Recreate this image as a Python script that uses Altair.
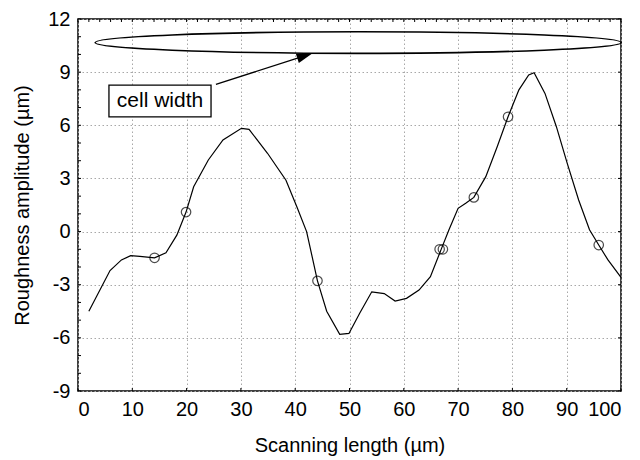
import altair as alt
import pandas as pd

# profile curve
curve_x = [2.0, 5.9, 8.0, 9.7, 11.4, 14.1, 16.2, 18.2, 19.9, 21.3, 24.0, 26.7, 30.1, 31.5, 34.9,
           38.3, 40.3, 42.1, 44.1, 45.8, 48.2, 49.9, 51.9, 54.1, 56.4, 58.4, 60.5, 62.8, 64.9, 66.9,
           68.3, 70.0, 71.4, 72.9, 75.1, 77.2, 79.2, 81.2, 83.0, 84.0, 86.0, 88.1, 90.1, 92.2, 94.2,
           95.9, 97.6, 100.0]
curve_y = [-4.5, -2.2, -1.6, -1.36, -1.4, -1.48, -1.2, -0.2, 1.1, 2.53, 4.04, 5.17, 5.83, 5.77, 4.42,
           2.9, 1.4, 0.0, -2.78, -4.5, -5.8, -5.75, -4.6, -3.4, -3.5, -3.92, -3.77, -3.3, -2.55, -0.99,
           0.09, 1.31, 1.6, 1.93, 3.1, 4.79, 6.48, 8.0, 8.84, 8.97, 7.8, 5.92, 3.85, 1.78, 0.1,
           -0.76, -1.6, -2.58]

# circled points
marker_x = [14.1, 19.9, 44.1, 66.6, 67.2, 72.9, 79.2, 95.9]
marker_y = [-1.48, 1.1, -2.78, -1.0, -1.0, 1.93, 6.48, -0.76]

# annotation
ellipse_center = [51.6, 10.67]
box_x = [5.7, 24.5]
box_y = [6.48, 8.27]
label_pos = [15.1, 7.37]
label_text = "cell width"
arrow_from = [25.4, 8.31]
arrow_to = [43.2, 10.06]

x_ticks = [0, 10, 20, 30, 40, 50, 60, 70, 80, 90, 100]
y_ticks = [-9, -6, -3, 0, 3, 6, 9, 12]
x_minor = [0, 2, 4, 6, 8, 10, 12, 14, 16, 18, 20, 22, 24, 26, 28, 30, 32, 34, 36, 38, 40, 42, 44, 46,
           48, 50, 52, 54, 56, 58, 60, 62, 64, 66, 68, 70, 72, 74, 76, 78, 80, 82, 84, 86, 88, 90,
           92, 94, 96, 98, 100]
y_minor = [-9, -8, -7, -6, -5, -4, -3, -2, -1, 0, 1, 2, 3, 4, 5, 6, 7, 8, 9, 10, 11, 12]

FONT = "Liberation Sans"
W, H = 543, 372

curve = pd.DataFrame({"x": curve_x, "y": curve_y})
markers = pd.DataFrame({"x": marker_x, "y": marker_y})

xscale = alt.Scale(domain=[0, 100], nice=False, zero=False)
yscale = alt.Scale(domain=[-9, 12], nice=False, zero=False)

xaxis = alt.Axis(values=x_ticks, title="Scanning length (µm)", grid=True, ticks=False,
                 domain=False, labelPadding=8, titlePadding=16,
                 labelExpr="replace(datum.label, '−', '-')")
yaxis = alt.Axis(values=y_ticks, title="Roughness amplitude (µm)", grid=True, ticks=False,
                 domain=False, labelPadding=8, titlePadding=15,
                 labelExpr="replace(datum.label, '−', '-')")

base_line = alt.Chart(curve).mark_line(color="black", strokeWidth=1.2).encode(
    x=alt.X("x:Q", scale=xscale, axis=xaxis),
    y=alt.Y("y:Q", scale=yscale, axis=yaxis),
)

pts = alt.Chart(markers).mark_point(shape="circle", filled=False, color="black",
                                    size=90, strokeWidth=1.2).encode(
    x=alt.X("x:Q", scale=xscale),
    y=alt.Y("y:Q", scale=yscale),
)

ell_df = pd.DataFrame({"x": [ellipse_center[0]], "y": [ellipse_center[1]]})
ellipse_path = ("M-1,0 C-1,-0.0226 -0.5523,-0.041 0,-0.041 C0.5523,-0.041 1,-0.0226 1,0 "
                "C1,0.0226 0.5523,0.041 0,0.041 C-0.5523,0.041 -1,0.0226 -1,0 Z")
ellipse = alt.Chart(ell_df).mark_point(shape=ellipse_path, filled=False, color="black",
                                       size=276676, strokeWidth=1.6, opacity=1).encode(
    x=alt.X("x:Q", scale=xscale),
    y=alt.Y("y:Q", scale=yscale),
)

box_df = pd.DataFrame({"x": [box_x[0]], "x2": [box_x[1]], "y": [box_y[0]], "y2": [box_y[1]]})
box = alt.Chart(box_df).mark_rect(fill="white", stroke="black", strokeWidth=1.3).encode(
    x=alt.X("x:Q", scale=xscale), x2="x2:Q",
    y=alt.Y("y:Q", scale=yscale), y2="y2:Q",
)

lab_df = pd.DataFrame({"x": [label_pos[0]], "y": [label_pos[1]], "t": [label_text]})
label = alt.Chart(lab_df).mark_text(font=FONT, fontSize=21, color="black",
                                    align="center", baseline="middle").encode(
    x=alt.X("x:Q", scale=xscale),
    y=alt.Y("y:Q", scale=yscale),
    text="t:N",
)

arr_df = pd.DataFrame({"x": [arrow_from[0]], "y": [arrow_from[1]],
                       "x2": [arrow_to[0] - 1.2], "y2": [arrow_to[1] - 0.12]})
arrow_line = alt.Chart(arr_df).mark_rule(color="black", strokeWidth=1.3).encode(
    x=alt.X("x:Q", scale=xscale), x2="x2:Q",
    y=alt.Y("y:Q", scale=yscale), y2="y2:Q",
)
head_df = pd.DataFrame({"x": [arrow_to[0]], "y": [arrow_to[1]]})
arrow_head = alt.Chart(head_df).mark_point(shape="M0,0 L-2,-0.6 L-2,0.6 Z", filled=True,
                                           color="black", size=256, angle=342, opacity=1).encode(
    x=alt.X("x:Q", scale=xscale),
    y=alt.Y("y:Q", scale=yscale),
)

# inward tick marks on the frame
top_df = pd.DataFrame({"v": x_minor})
top_ticks = alt.Chart(top_df).mark_rule(color="black", strokeWidth=1).encode(
    x=alt.X("v:Q", scale=xscale), y=alt.value(0), y2=alt.value(3))
bot_df = pd.DataFrame({"v": x_ticks})
bot_ticks = alt.Chart(bot_df).mark_rule(color="black", strokeWidth=1).encode(
    x=alt.X("v:Q", scale=xscale), y=alt.value(H), y2=alt.value(H - 3))
left_df = pd.DataFrame({"v": y_minor})
left_ticks = alt.Chart(left_df).mark_rule(color="black", strokeWidth=1).encode(
    y=alt.Y("v:Q", scale=yscale), x=alt.value(0), x2=alt.value(3))
right_df = pd.DataFrame({"v": y_ticks})
right_ticks = alt.Chart(right_df).mark_rule(color="black", strokeWidth=1).encode(
    y=alt.Y("v:Q", scale=yscale), x=alt.value(W), x2=alt.value(W - 3))

chart = alt.layer(base_line, top_ticks, bot_ticks, left_ticks, right_ticks,
                  pts, ellipse, arrow_line, arrow_head, box, label).properties(
    width=W, height=H,
    autosize=alt.AutoSizeParams(type="none"),
    padding={"left": 70, "top": 11, "right": 11, "bottom": 68},
    background="white",
).configure_view(
    stroke="black", strokeWidth=1.5
).configure_axis(
    gridColor="#a8a8a8", gridDash=[1.5, 2.5], gridWidth=1,
    labelFont=FONT, labelFontSize=20, labelColor="black",
    titleFont=FONT, titleFontSize=20, titleFontWeight="normal", titleColor="black",
)

chart.save("out.html", embed_options={"renderer": "svg", "actions": False})
